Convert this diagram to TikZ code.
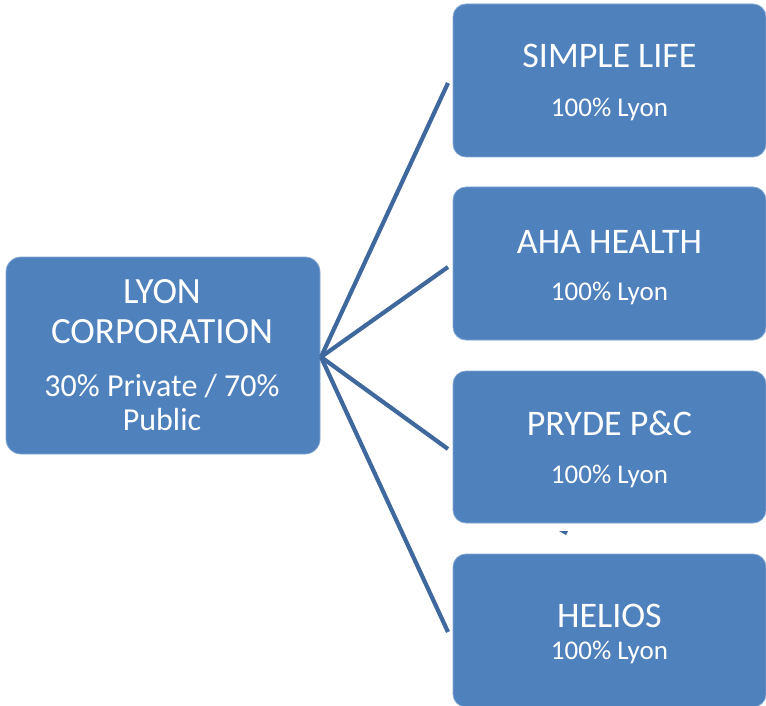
\documentclass[tikz,border=0pt]{standalone}
\usepackage{fontspec}
\setmainfont{Carlito}
\definecolor{boxfill}{RGB}{79,129,189}
\definecolor{linecol}{RGB}{63,104,157}
\begin{document}
\begin{tikzpicture}[x=1pt,y=-1pt,
  orgbox/.style={draw=boxfill!70!white,line width=0.8pt,fill=boxfill,rounded corners=13pt,inner sep=0pt,outer sep=0pt},
  big/.style={text=white,anchor=base,inner sep=0pt,font=\fontsize{36}{40}\selectfont},
  lbig/.style={text=white,anchor=base,inner sep=0pt,font=\fontsize{37}{40}\selectfont},
  small/.style={text=white,anchor=base,inner sep=0pt,font=\fontsize{27}{30}\selectfont},
  mid/.style={text=white,anchor=base,inner sep=0pt,font=\fontsize{32}{34}\selectfont},
  conn/.style={draw=linecol,line width=4.2pt}]
\useasboundingbox (0,0) rectangle (766,706);
% boxes
\node[orgbox,rounded corners=15pt,minimum width=314pt,minimum height=197pt] (lyon) at (163,355.5) {};
\node[orgbox,minimum width=313pt,minimum height=153pt] (s1) at (609.5,80.5) {};
\node[orgbox,minimum width=313pt,minimum height=153pt] (s2) at (609.5,263.5) {};
\node[orgbox,minimum width=313pt,minimum height=152pt] (s3) at (609.5,447) {};
\node[orgbox,minimum width=313pt,minimum height=153pt] (s4) at (609.5,630.5) {};
% texts
\node[lbig] (lyon1) at (162,303) {LYON};
\node[lbig] (lyon2) at (162,343) {CORPORATION};
\node[mid] (lyon3) at (162,396) {30\% Private / 70\%};
\node[mid] (lyon4) at (162,430) {Public};
\node[big] (t1) at (609.5,68) {SIMPLE LIFE};
\node[small] (p1) at (609.5,117) {100\% Lyon};
\node[big] (t2) at (609.5,253) {AHA HEALTH};
\node[small] (p2) at (609.5,300) {100\% Lyon};
\node[big] (t3) at (609.5,435) {PRYDE P\&C};
\node[small] (p3) at (609.5,483) {100\% Lyon};
\node[big] (t4) at (609.5,627) {HELIOS};
\node[small] (p4) at (609.5,659) {100\% Lyon};
% connectors
\coordinate (hub) at (321,357);
\coordinate (e1) at (448,83);
\coordinate (e2) at (448,267);
\coordinate (e3) at (448,449);
\coordinate (e4) at (448,632);
\draw[conn] (hub) -- (e1);
\draw[conn] (hub) -- (e2);
\draw[conn] (hub) -- (e3);
\draw[conn] (hub) -- (e4);
% small mark
\fill[linecol] (559,531) -- (568,531) -- (566,535) -- cycle;
\end{tikzpicture}
\end{document}
